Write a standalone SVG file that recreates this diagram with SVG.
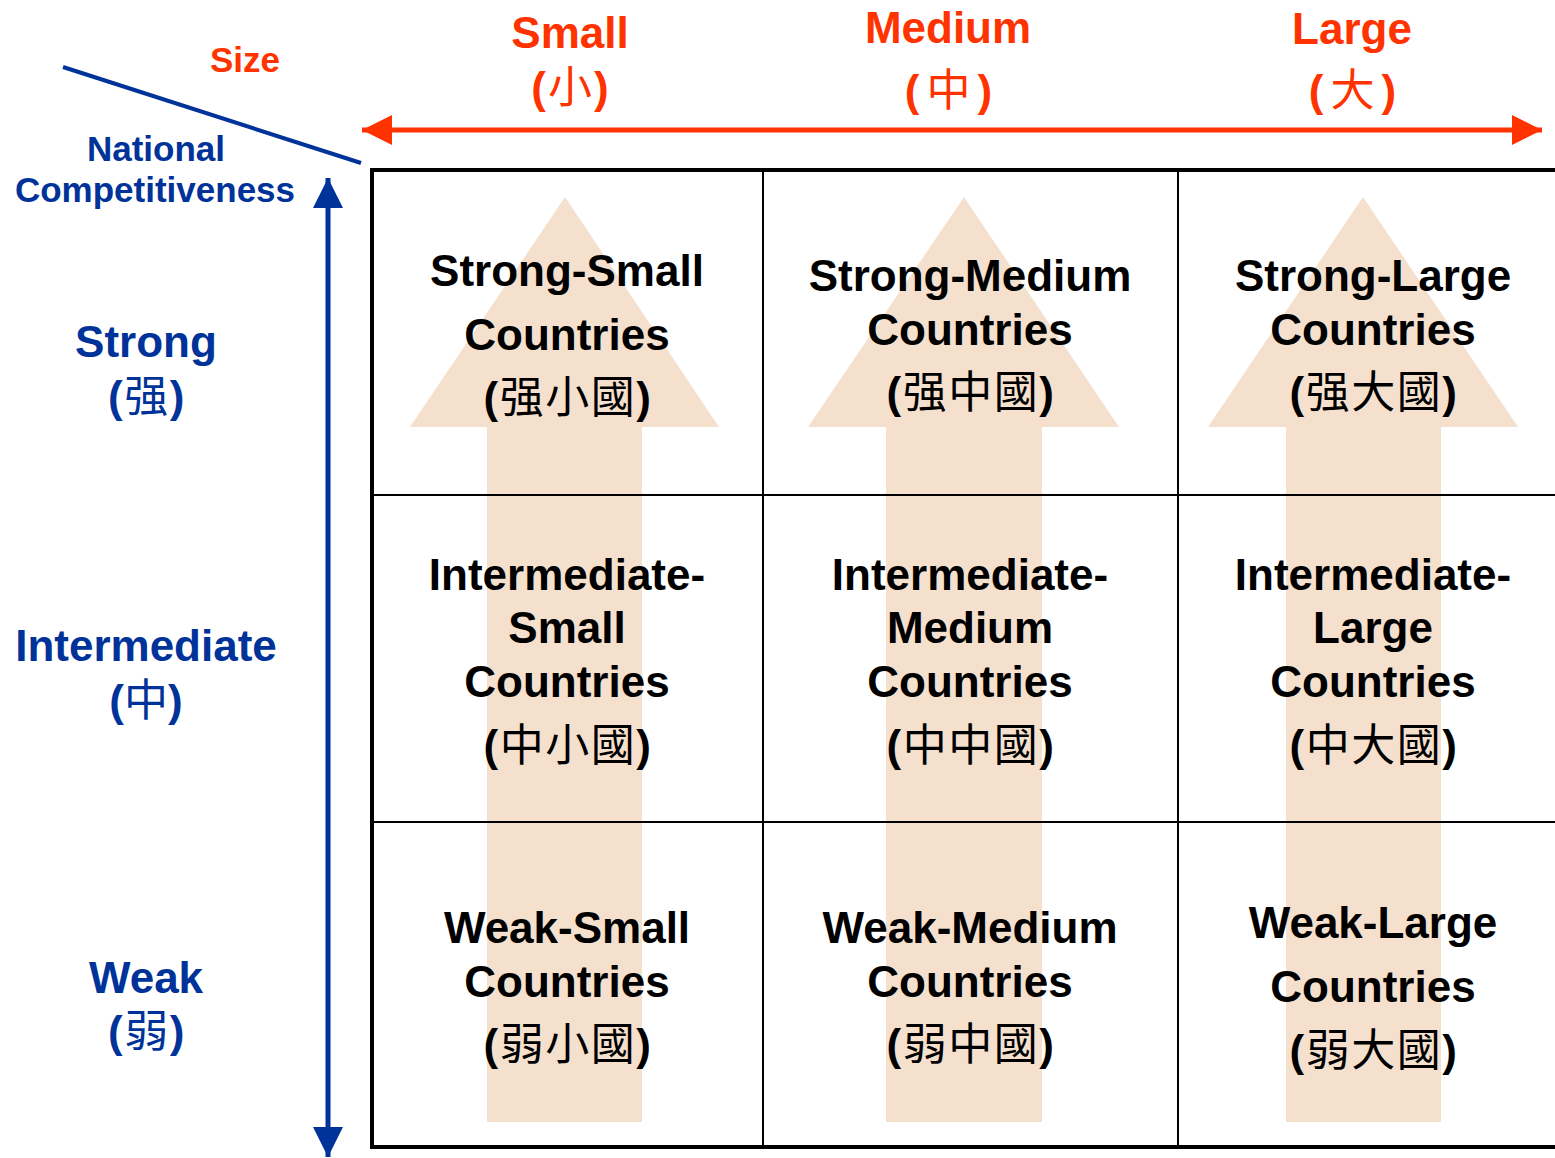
<svg xmlns="http://www.w3.org/2000/svg" width="1555" height="1158" viewBox="0 0 1555 1158">
<style>
.t{font-family:"Liberation Sans","Noto Sans CJK TC",Arial,sans-serif;font-weight:bold;font-size:44px;text-anchor:middle}
.cell{fill:#000}
.red{fill:#FF3300}
.blue{fill:#003399}
.cjk{font-family:"Noto Sans CJK TC","Noto Sans CJK SC",sans-serif;font-weight:400}
.sp1{letter-spacing:7px}
.sp2{letter-spacing:2px}
.sp3{letter-spacing:1.5px}
.small{font-size:35px}
.arrowbg{fill:#F5E0CE}
.thick{stroke:#000;stroke-width:4;fill:none}
.thin{stroke:#000;stroke-width:2;fill:none}
</style>
<defs>
<marker id="redHead" markerWidth="6" markerHeight="6" refX="6" refY="3" orient="auto-start-reverse" markerUnits="strokeWidth">
<path d="M0,0 L6,3 L0,6 Z" fill="#FF3300"/>
</marker>
<marker id="blueHead" markerWidth="6" markerHeight="6" refX="6" refY="3" orient="auto-start-reverse" markerUnits="strokeWidth">
<path d="M0,0 L6,3 L0,6 Z" fill="#003399"/>
</marker>
</defs>
<rect width="1555" height="1158" fill="#fff"/>

<g id="background-arrows">
<path class="arrowbg" d="M565,197 L719,427 L642,427 L642,1122 L487,1122 L487,427 L410,427 Z"/>
<path class="arrowbg" d="M964,197 L1119,427 L1042,427 L1042,1122 L886,1122 L886,427 L808,427 Z"/>
<path class="arrowbg" d="M1363,197 L1518,427 L1441,427 L1441,1122 L1286,1122 L1286,427 L1208,427 Z"/>
</g>

<g id="grid">
<line class="thin" x1="763" y1="170" x2="763" y2="1147"/>
<line class="thin" x1="1178" y1="170" x2="1178" y2="1147"/>
<line class="thin" x1="372" y1="495" x2="1560" y2="495"/>
<line class="thin" x1="372" y1="822" x2="1560" y2="822"/>
<path class="thick" d="M1560,170 L372,170 L372,1147 L1560,1147"/>
</g>

<g id="connectors">
<line x1="63" y1="67" x2="361" y2="163" stroke="#003399" stroke-width="4"/>
<line x1="362" y1="130" x2="1542" y2="130" stroke="#FF3300" stroke-width="5" marker-start="url(#redHead)" marker-end="url(#redHead)"/>
<line x1="328" y1="178" x2="328" y2="1157" stroke="#003399" stroke-width="5" marker-start="url(#blueHead)" marker-end="url(#blueHead)"/>
</g>

<g id="axis-labels">
<text class="t red small" x="245" y="72">Size</text>
<text class="t red" x="570" y="48">Small</text>
<text class="t red sp2" x="571" y="103">(<tspan class="cjk">小</tspan>)</text>
<text class="t red" x="948" y="43">Medium</text>
<text class="t red sp1" x="952" y="106">(<tspan class="cjk">中</tspan>)</text>
<text class="t red" x="1352" y="44">Large</text>
<text class="t red sp1" x="1356" y="106">(<tspan class="cjk">大</tspan>)</text>
<text class="t blue small" x="156" y="161">National</text>
<text class="t blue small" x="155" y="202">Competitiveness</text>
<text class="t blue" x="146" y="357">Strong</text>
<text class="t blue sp3" x="147" y="412">(<tspan class="cjk">强</tspan>)</text>
<text class="t blue" x="146" y="661">Intermediate</text>
<text class="t blue" x="146" y="716">(<tspan class="cjk">中</tspan>)</text>
<text class="t blue" x="146" y="993">Weak</text>
<text class="t blue sp3" x="147" y="1047">(<tspan class="cjk">弱</tspan>)</text>
</g>

<g id="node-strong-small">
<text class="t cell" x="567" y="286">Strong-Small</text>
<text class="t cell" x="567" y="350">Countries</text>
<text class="t cell sp3" x="568" y="413">(<tspan class="cjk">强小國</tspan>)</text>
</g>
<g id="node-strong-medium">
<text class="t cell" x="970" y="291">Strong-Medium</text>
<text class="t cell" x="970" y="345">Countries</text>
<text class="t cell sp3" x="971" y="408">(<tspan class="cjk">强中國</tspan>)</text>
</g>
<g id="node-strong-large">
<text class="t cell" x="1373" y="291">Strong-Large</text>
<text class="t cell" x="1373" y="345">Countries</text>
<text class="t cell sp3" x="1374" y="408">(<tspan class="cjk">强大國</tspan>)</text>
</g>

<g id="node-intermediate-small">
<text class="t cell" x="567" y="590">Intermediate-</text>
<text class="t cell" x="567" y="643">Small</text>
<text class="t cell" x="567" y="697">Countries</text>
<text class="t cell sp3" x="568" y="761">(<tspan class="cjk">中小國</tspan>)</text>
</g>
<g id="node-intermediate-medium">
<text class="t cell" x="970" y="590">Intermediate-</text>
<text class="t cell" x="970" y="643">Medium</text>
<text class="t cell" x="970" y="697">Countries</text>
<text class="t cell sp3" x="971" y="761">(<tspan class="cjk">中中國</tspan>)</text>
</g>
<g id="node-intermediate-large">
<text class="t cell" x="1373" y="590">Intermediate-</text>
<text class="t cell" x="1373" y="643">Large</text>
<text class="t cell" x="1373" y="697">Countries</text>
<text class="t cell sp3" x="1374" y="761">(<tspan class="cjk">中大國</tspan>)</text>
</g>

<g id="node-weak-small">
<text class="t cell" x="567" y="943">Weak-Small</text>
<text class="t cell" x="567" y="997">Countries</text>
<text class="t cell sp3" x="568" y="1060">(<tspan class="cjk">弱小國</tspan>)</text>
</g>
<g id="node-weak-medium">
<text class="t cell" x="970" y="943">Weak-Medium</text>
<text class="t cell" x="970" y="997">Countries</text>
<text class="t cell sp3" x="971" y="1060">(<tspan class="cjk">弱中國</tspan>)</text>
</g>
<g id="node-weak-large">
<text class="t cell" x="1373" y="938">Weak-Large</text>
<text class="t cell" x="1373" y="1002">Countries</text>
<text class="t cell sp3" x="1374" y="1066">(<tspan class="cjk">弱大國</tspan>)</text>
</g>
</svg>
